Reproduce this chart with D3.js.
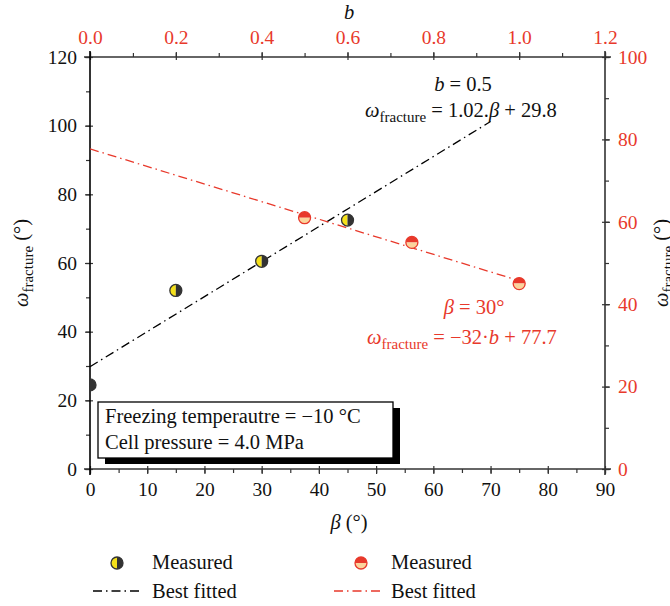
<!DOCTYPE html>
<html>
<head>
<meta charset="utf-8">
<script src="https://d3js.org/d3.v7.min.js"></script>
<style>
body { margin: 0; background: #fff; }
svg { display: block; }
text { font-family: "Liberation Serif", "DejaVu Serif", serif; font-size: 20.5px; fill: #111; }
.tick text { font-size: 19.5px; }
.red text, text.red { fill: #e8392b; }
</style>
</head>
<body>
<svg width="670" height="606"></svg>
<script>

// measured points, beta series (left / bottom axes)
var betaVals = [0, 15, 30, 45];
var omegaBeta = [24.5, 52, 60.5, 72.5];
// measured points, b series (right / top axes)
var bVals = [0.5, 0.75, 1.0];
var omegaB = [61, 55, 45];

// fitted lines, endpoints of the drawn range
var fitBetaRange = [0, 70];
var fitBRange = [0, 1.0];
var fitBeta = function(x) { return 1.02 * x + 29.8; };
var fitB = function(x) { return -32 * x + 77.7; };

var bottomTicks = [0, 10, 20, 30, 40, 50, 60, 70, 80, 90];
var topTicks = [0, 0.2, 0.4, 0.6, 0.8, 1.0, 1.2];
var leftTicks = [0, 20, 40, 60, 80, 100, 120];
var rightTicks = [0, 20, 40, 60, 80, 100];

var RED = "#e8392b", LIGHT = "#fbd49c", YEL = "#f5e11a", DARK = "#333";

var svg = d3.select("svg"),
    margin = {top: 57, right: 65, bottom: 137, left: 90},
    width = 670 - margin.left - margin.right,
    height = 606 - margin.top - margin.bottom;

var g = svg.append("g").attr("transform", "translate(" + margin.left + "," + margin.top + ")");

var x = d3.scaleLinear().domain([0, 90]).range([0, width]);
var xb = d3.scaleLinear().domain([0, 1.2]).range([0, width]);
var y = d3.scaleLinear().domain([0, 120]).range([height, 0]);
var yr = d3.scaleLinear().domain([0, 100]).range([height, 0]);

function minors(scale, step) {
    var d = scale.domain(), out = [];
    for (var v = d[0]; v <= d[1] + 1e-9; v += step) out.push(+v.toFixed(4));
    return out;
}

// minor ticks
g.append("g").attr("transform", "translate(0," + height + ")")
    .call(d3.axisBottom(x).tickValues(minors(x, 5)).tickSize(4).tickFormat(""));
g.append("g")
    .call(d3.axisTop(xb).tickValues(minors(xb, 0.1)).tickSize(4).tickFormat(""));
g.append("g")
    .call(d3.axisLeft(y).tickValues(minors(y, 10)).tickSize(4).tickFormat(""));
g.append("g").attr("transform", "translate(" + width + ",0)")
    .call(d3.axisRight(yr).tickValues(minors(yr, 10)).tickSize(4).tickFormat(""));

// major axes
var xAxis = g.append("g").attr("transform", "translate(0," + height + ")")
    .call(d3.axisBottom(x).tickValues(bottomTicks).tickSize(5).tickSizeOuter(0).tickPadding(8));
var topAxis = g.append("g").attr("class", "red")
    .call(d3.axisTop(xb).tickValues(topTicks).tickSize(5).tickSizeOuter(0).tickPadding(8)
        .tickFormat(d3.format(".1f")));
var yAxis = g.append("g")
    .call(d3.axisLeft(y).tickValues(leftTicks).tickSize(5).tickSizeOuter(0).tickPadding(8));
var rAxis = g.append("g").attr("class", "red").attr("transform", "translate(" + width + ",0)")
    .call(d3.axisRight(yr).tickValues(rightTicks).tickSize(5).tickSizeOuter(0).tickPadding(8));

// ticks cross the axis line a little
xAxis.selectAll(".tick line").attr("y1", -3);
topAxis.selectAll(".tick line").attr("y1", 3);
yAxis.selectAll(".tick line").attr("x1", 3);
rAxis.selectAll(".tick line").attr("x1", -3);

g.selectAll(".domain").remove();
g.selectAll(".tick line").attr("stroke", DARK).attr("stroke-width", 1.2);
g.selectAll(".tick text").attr("font-family", null).attr("font-size", null);

// frame lines, extended slightly past the corners
var frame = g.append("g").attr("stroke", DARK).attr("stroke-width", 1.6);
frame.append("line").attr("x1", -6).attr("x2", width + 6).attr("y1", height).attr("y2", height);
frame.append("line").attr("x1", -6).attr("x2", width + 6).attr("y1", 0).attr("y2", 0);
frame.append("line").attr("x1", 0).attr("x2", 0).attr("y1", -6).attr("y2", height + 6).attr("stroke", "#000");
frame.append("line").attr("x1", width).attr("x2", width).attr("y1", -6).attr("y2", height + 6);

// clip for data
svg.append("defs").append("clipPath").attr("id", "plot")
    .append("rect").attr("width", width).attr("height", height);
var plot = g.append("g").attr("clip-path", "url(#plot)");

var dash = "9,4,1.5,4";

// fitted lines
plot.append("line")
    .attr("x1", x(fitBetaRange[0])).attr("y1", y(fitBeta(fitBetaRange[0])))
    .attr("x2", x(fitBetaRange[1])).attr("y2", y(fitBeta(fitBetaRange[1])))
    .attr("stroke", "#000").attr("stroke-width", 1.3).attr("stroke-dasharray", dash);
plot.append("line")
    .attr("x1", xb(fitBRange[0])).attr("y1", yr(fitB(fitBRange[0])))
    .attr("x2", xb(fitBRange[1])).attr("y2", yr(fitB(fitBRange[1])))
    .attr("stroke", RED).attr("stroke-width", 1.3).attr("stroke-dasharray", dash);

var R = 6;
var arc = d3.arc().innerRadius(0).outerRadius(R);

function blackMarker(sel) {
    sel.append("path").attr("d", arc({startAngle: Math.PI, endAngle: 2 * Math.PI})).attr("fill", YEL);
    sel.append("path").attr("d", arc({startAngle: 0, endAngle: Math.PI})).attr("fill", DARK);
    sel.append("circle").attr("r", R).attr("fill", "none").attr("stroke", DARK).attr("stroke-width", 1.3);
}
function redMarker(sel) {
    sel.append("path").attr("d", arc({startAngle: -Math.PI / 2, endAngle: Math.PI / 2})).attr("fill", RED);
    sel.append("path").attr("d", arc({startAngle: Math.PI / 2, endAngle: 1.5 * Math.PI})).attr("fill", LIGHT);
    sel.append("circle").attr("r", R).attr("fill", "none").attr("stroke", RED).attr("stroke-width", 1.3);
}

betaVals.forEach(function(b, i) {
    plot.append("g").attr("transform", "translate(" + x(b) + "," + y(omegaBeta[i]) + ")").call(blackMarker);
});
bVals.forEach(function(b, i) {
    plot.append("g").attr("transform", "translate(" + xb(b) + "," + yr(omegaB[i]) + ")").call(redMarker);
});

// helper for omega_fracture text
function omegaText(t, rest) {
    t.append("tspan").attr("font-style", "italic").text("ω");
    t.append("tspan").style("font-size", "15px").attr("dy", 5).text("fracture");
    t.append("tspan").attr("dy", -5).text(rest);
}

// annotations
var a1 = g.append("text").attr("x", 373).attr("y", 34).attr("text-anchor", "middle");
a1.append("tspan").attr("font-style", "italic").text("b");
a1.append("tspan").text(" = 0.5");
var a2 = g.append("text").attr("x", 275).attr("y", 60);
omegaText(a2, " = 1.02.");
a2.append("tspan").attr("font-style", "italic").text("β");
a2.append("tspan").text(" + 29.8");

var a3 = g.append("text").attr("class", "red").attr("x", 384).attr("y", 257).attr("text-anchor", "middle");
a3.append("tspan").attr("font-style", "italic").text("β");
a3.append("tspan").text(" = 30°");
var a4 = g.append("text").attr("class", "red").attr("x", 277).attr("y", 287);
omegaText(a4, " = −32·");
a4.append("tspan").attr("font-style", "italic").text("b");
a4.append("tspan").text(" + 77.7");

// info box
g.append("rect").attr("x", 15).attr("y", 351).attr("width", 295).attr("height", 56).attr("fill", "#000");
g.append("rect").attr("x", 8).attr("y", 345).attr("width", 295).attr("height", 56)
    .attr("fill", "#fff").attr("stroke", "#000").attr("stroke-width", 1.3);
g.append("text").attr("x", 15).attr("y", 366).text("Freezing temperautre = −10 °C");
g.append("text").attr("x", 15).attr("y", 392).text("Cell pressure = 4.0 MPa");

// axis titles
var bt = svg.append("text").attr("x", 349).attr("y", 529).attr("text-anchor", "middle");
bt.append("tspan").attr("font-style", "italic").text("β");
bt.append("tspan").text(" (°)");
svg.append("text").attr("x", 349).attr("y", 19).attr("text-anchor", "middle")
    .attr("font-style", "italic").text("b");

var lt = svg.append("text").attr("transform", "translate(28,263) rotate(-90)").attr("text-anchor", "middle");
omegaText(lt, " (°)");
var rt = svg.append("text").attr("transform", "translate(668,263) rotate(-90)").attr("text-anchor", "middle");
omegaText(rt, " (°)");

// legend
var leg = svg.append("g");
leg.append("g").attr("transform", "translate(117,563)").call(blackMarker);
leg.append("text").attr("x", 152).attr("y", 569).text("Measured");
leg.append("line").attr("x1", 93).attr("x2", 141).attr("y1", 591).attr("y2", 591)
    .attr("stroke", "#000").attr("stroke-width", 1.3).attr("stroke-dasharray", dash);
leg.append("text").attr("x", 152).attr("y", 598).text("Best fitted");

leg.append("g").attr("transform", "translate(361,563)").call(redMarker);
leg.append("text").attr("x", 391).attr("y", 569).text("Measured");
leg.append("line").attr("x1", 334).attr("x2", 382).attr("y1", 591).attr("y2", 591)
    .attr("stroke", RED).attr("stroke-width", 1.3).attr("stroke-dasharray", dash);
leg.append("text").attr("x", 391).attr("y", 598).text("Best fitted");

</script>
</body>
</html>
